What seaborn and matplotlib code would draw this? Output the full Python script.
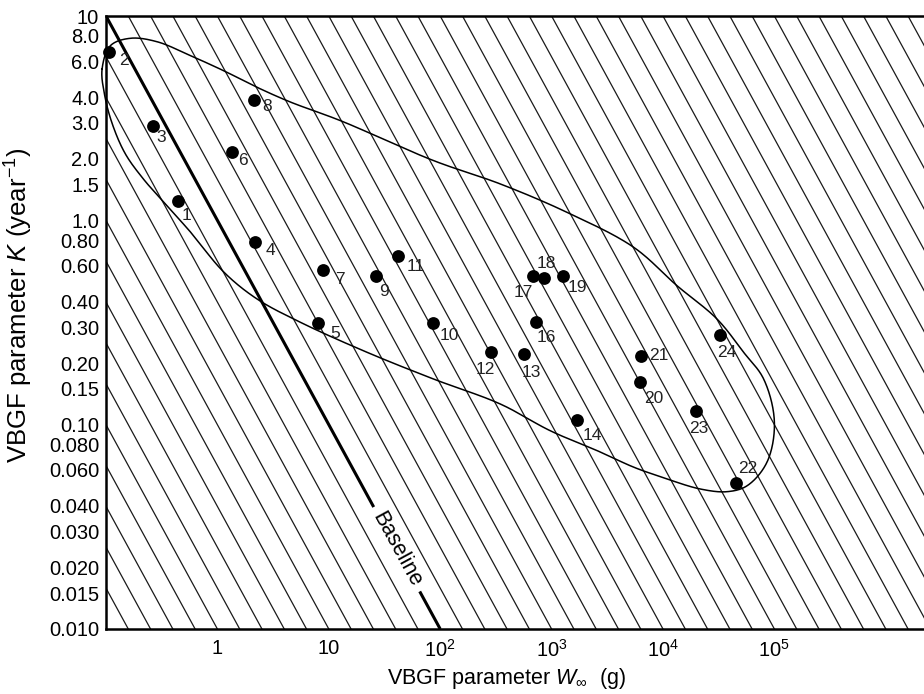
import numpy as np
import pandas as pd
import matplotlib
matplotlib.use("Agg")
import matplotlib.pyplot as plt
import seaborn as sns
from matplotlib.ticker import FixedLocator, FixedFormatter, NullFormatter

# ---------------- data ----------------
species_id = ["1", "2", "3", "4", "5", "6", "7", "8", "9", "10", "11", "12",
              "13", "14", "16", "17", "18", "19", "20", "21", "22", "23", "24"]
W_inf = [0.44, 0.107, 0.262, 2.16, 8.07, 1.355, 8.89, 2.12, 26.7, 86.3, 41.5, 286,
         562, 1693, 731, 683, 849, 1268, 6266, 6357, 44960, 19950, 32260]
K_year = [1.24, 6.64, 2.90, 0.786, 0.313, 2.15, 0.571, 3.88, 0.532, 0.314, 0.671, 0.226,
          0.222, 0.105, 0.317, 0.532, 0.520, 0.536, 0.162, 0.217, 0.0518, 0.117, 0.275]

# label offsets (pixels) from each point
label_dx = [9, 15, 9, 16, 17, 11, 17, 13, 8, 16, 18, -6, 8, 15, 10, -10, 3, 14, 13, 18, 12, 2, 7]
label_dy = [-14, -8, -12, -9, -10, -8, -9, -6, -15, -12, -11, -17, -19, -15, -15, -16, 15, -12, -17, 0, 15, -18, -18]

# enclosing outline (log10 W, log10 K), clockwise from left end
outline_logW = [-1.035, -0.960, -0.781, -0.541, -0.242, 0.057, 0.356, 0.655, 1.104, 1.942,
                2.540, 3.139, 3.737, 4.126, 4.485, 4.724, 4.904, 5.000, 4.934, 4.755,
                4.575, 4.336, 4.037, 3.737, 3.438, 2.989, 2.540, 1.942, 1.344, 0.745,
                0.356, 0.057, -0.242, -0.467, -0.664, -0.826, -0.943, -1.014]
outline_logK = [0.741, 0.855, 0.891, 0.874, 0.806, 0.732, 0.651, 0.579, 0.488, 0.292,
                0.178, 0.039, -0.132, -0.320, -0.483, -0.646, -0.777, -0.987, -1.183, -1.299,
                -1.328, -1.315, -1.266, -1.208, -1.134, -1.030, -0.899, -0.777, -0.646, -0.499,
                -0.385, -0.253, -0.057, 0.080, 0.202, 0.325, 0.471, 0.618]

x_ticks = [1, 10, 100, 1000, 10000, 100000]
x_ticklabels = ["1", "10", "$10^{2}$", "$10^{3}$", "$10^{4}$", "$10^{5}$"]
y_ticks = [10, 8, 6, 4, 3, 2, 1.5, 1.0, 0.8, 0.6, 0.4, 0.3, 0.2, 0.15, 0.1,
           0.08, 0.06, 0.04, 0.03, 0.02, 0.015, 0.01]
y_ticklabels = ["10", "8.0", "6.0", "4.0", "3.0", "2.0", "1.5", "1.0", "0.80", "0.60",
                "0.40", "0.30", "0.20", "0.15", "0.10", "0.080", "0.060", "0.040",
                "0.030", "0.020", "0.015", "0.010"]
y_minor = [9, 7, 5, 0.9, 0.7, 0.5, 0.09, 0.07, 0.05]

df = pd.DataFrame({"id": species_id, "W": W_inf, "K": K_year})

# ---------------- style ----------------
sns.set_theme(style="white")
plt.rcParams['font.family'] = ['Liberation Sans', 'DejaVu Sans']
plt.rcParams['mathtext.fontset'] = 'custom'
plt.rcParams['mathtext.rm'] = 'Liberation Sans'
plt.rcParams['mathtext.it'] = 'Liberation Sans:italic'
plt.rcParams['mathtext.bf'] = 'Liberation Sans:bold'

fig = plt.figure(figsize=(9.24, 6.94), dpi=100)
ax = fig.add_axes([106 / 924, 1 - 629 / 694, 818 / 924, 613 / 694])
ax.set_xscale('log')
ax.set_yscale('log')
ax.set_xlim(0.1, 10 ** 6.343)
ax.set_ylim(0.01, 10)

# hatch lines: log K + log W = const
for n in range(-17, 40):
    if n == 0:
        continue
    s = 0.2 * n
    lw_ = np.array([-1.5, 7.5])
    ax.plot(10 ** lw_, 10 ** (s - lw_), color='#1a1a1a', lw=0.9, zorder=1)

# baseline (with gap for the label)
gap_lo, gap_hi = 25.3, 65.5
ax.plot([0.1, gap_lo], [10, 1 / gap_lo], color='black', lw=2.2, zorder=2,
        solid_capstyle='butt')
ax.plot([gap_hi, 100], [1 / gap_hi, 0.01], color='black', lw=2.2, zorder=2,
        solid_capstyle='butt')
p = ax.transData.transform([(0.1, 10), (100, 0.01)])
ang = np.degrees(np.arctan2(p[1, 1] - p[0, 1], p[1, 0] - p[0, 0]))
ax.text(40.6, 1 / 40.6, "Baseline", rotation=ang, rotation_mode='anchor',
        ha='center', va='center', fontsize=15.5, color='black', zorder=3)

# smooth closed outline: centripetal Catmull-Rom in display space
P = ax.transData.transform(np.column_stack([10 ** np.array(outline_logW),
                                            10 ** np.array(outline_logK)]))
N = len(P)
alpha = 0.5
pieces = []
for i in range(N):
    p0, p1, p2, p3 = P[(i - 1) % N], P[i], P[(i + 1) % N], P[(i + 2) % N]
    t0 = 0.0
    t1 = t0 + np.linalg.norm(p1 - p0) ** alpha
    t2 = t1 + np.linalg.norm(p2 - p1) ** alpha
    t3 = t2 + np.linalg.norm(p3 - p2) ** alpha
    t = np.linspace(t1, t2, 25, endpoint=False)[:, None]
    A1 = (t1 - t) / (t1 - t0) * p0 + (t - t0) / (t1 - t0) * p1
    A2 = (t2 - t) / (t2 - t1) * p1 + (t - t1) / (t2 - t1) * p2
    A3 = (t3 - t) / (t3 - t2) * p2 + (t - t2) / (t3 - t2) * p3
    B1 = (t2 - t) / (t2 - t0) * A1 + (t - t0) / (t2 - t0) * A2
    B2 = (t3 - t) / (t3 - t1) * A2 + (t - t1) / (t3 - t1) * A3
    C = (t2 - t) / (t2 - t1) * B1 + (t - t1) / (t2 - t1) * B2
    pieces.append(C)
curve_disp = np.vstack(pieces + [P[:1]])
curve = ax.transData.inverted().transform(curve_disp)
ax.plot(curve[:, 0], curve[:, 1], color='black', lw=1.1, zorder=4, clip_on=False)

# points
sns.scatterplot(data=df, x="W", y="K", s=85, color='black', edgecolor='black',
                linewidth=0, ax=ax, zorder=5, legend=False, clip_on=False)
for sid, w, k, dx, dy in zip(species_id, W_inf, K_year, label_dx, label_dy):
    ax.annotate(sid, (w, k), xytext=(dx, dy), textcoords='offset pixels',
                ha='center', va='center', fontsize=12.5, color='#222222', zorder=6)

# axes styling
ax.xaxis.set_major_locator(FixedLocator(x_ticks))
ax.xaxis.set_major_formatter(FixedFormatter(x_ticklabels))
ax.xaxis.set_minor_locator(FixedLocator([]))
ax.yaxis.set_major_locator(FixedLocator(y_ticks))
ax.yaxis.set_major_formatter(FixedFormatter(y_ticklabels))
ax.yaxis.set_minor_locator(FixedLocator(y_minor))
ax.yaxis.set_minor_formatter(NullFormatter())

ax.tick_params(axis='x', which='major', direction='in', length=5, width=1.2,
               labelsize=14.5, pad=7, colors='black')
ax.tick_params(axis='y', which='both', direction='in', length=8, width=1.2,
               labelsize=14.5, pad=5, colors='black')

for side in ['left', 'bottom', 'top']:
    ax.spines[side].set_visible(True)
    ax.spines[side].set_linewidth(1.8)
    ax.spines[side].set_color('black')
ax.spines['right'].set_visible(False)

ax.set_xlabel(r"VBGF parameter $\mathit{W}_{\infty}$  (g)", fontsize=15.5, color='black')
ax.set_ylabel(r"VBGF parameter $\mathit{K}$ (year$^{-1}$)", fontsize=18.5, color='black')
ax.xaxis.label.set_va('center')
ax.yaxis.label.set_va('center')
ax.xaxis.set_label_coords(0.4896, -0.08)
ax.yaxis.set_label_coords(-0.107, 0.5285)
ax.set_facecolor('white')
fig.patch.set_facecolor('white')

fig.savefig("out.png", dpi=100)
